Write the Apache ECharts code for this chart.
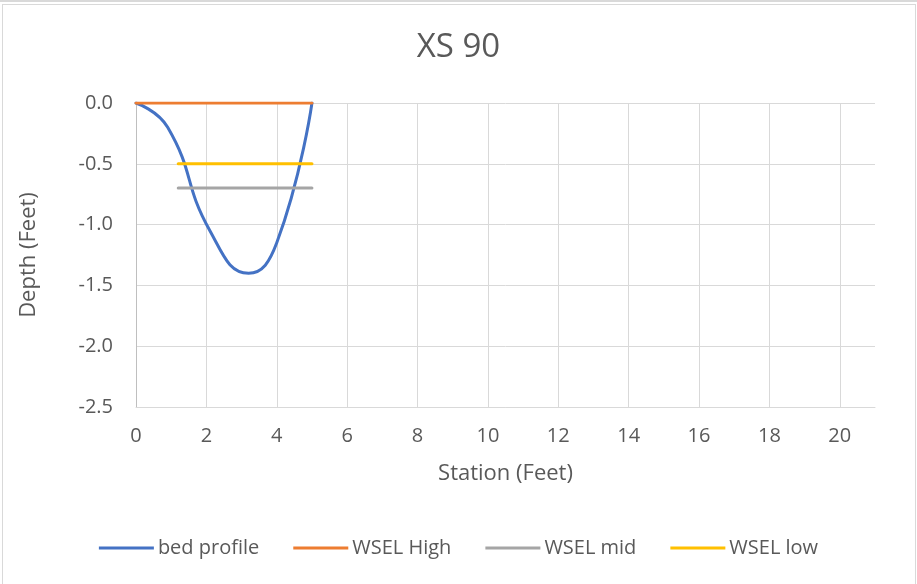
<!DOCTYPE html>
<html>
<head>
<meta charset="utf-8">
<script src="https://cdn.jsdelivr.net/npm/echarts@6/dist/echarts.min.js"></script>
<style>
  html, body { margin: 0; padding: 0; background: #fff; }
  #wrap { position: relative; width: 917px; height: 584px; overflow: hidden; }
  #chart { position: absolute; left: 0; top: 0; width: 917px; height: 584px; }
  #frame { position: absolute; left: 2px; top: 4px; width: 912px; height: 590px; border: 1px solid #d9d9d9; pointer-events: none; }
  #strip { position: absolute; left: 0; top: 0; width: 917px; height: 2px; background: #d9d9d9; }
</style>
</head>
<body>
<div id="wrap">
  <div id="chart"></div>
  <div id="strip"></div>
  <div id="frame"></div>
</div>
<script>
// station / depth pairs
const bedStation = [0, 0.9, 2.1, 3.2, 4.0, 5.0]
const bedDepth = [0, -0.2, -1.05, -1.4, -1.15, 0]

const highStation = [0, 5]
const highDepth = [0, 0]
const midStation = [1.2, 5]
const midDepth = [-0.7, -0.7]
const lowStation = [1.2, 5]
const lowDepth = [-0.5, -0.5]

const seriesNames = ['bed profile', 'WSEL High', 'WSEL mid', 'WSEL low']
const seriesColors = ['#4472C4', '#ED7D31', '#A5A5A5', '#FFC000']

const pairs = (xs, ys) => xs.map((x, i) => [x, ys[i]])

const font = '"Open Sans", "Noto Sans", sans-serif'
const textColor = '#595959'

// 11 grid lines for 0..20, none at the 21 edge
const xSplitColors = new Array(11).fill('#d9d9d9').concat(['rgba(0,0,0,0)'])

const chart = echarts.init(document.getElementById('chart'))

const option = {
  animation: false,
  textStyle: {fontFamily: font},
  title: {
    text: 'XS 90',
    left: 'center',
    top: 26,
    textStyle: {fontFamily: font, fontSize: 33, fontWeight: 'normal', color: textColor}
  },
  legend: {
    data: seriesNames,
    bottom: 21,
    left: 'center',
    icon: 'rect',
    itemWidth: 55,
    itemHeight: 3,
    itemGap: 34,
    textStyle: {fontFamily: font, fontSize: 20, color: textColor, padding: [0, 0, 0, -1]}
  },
  grid: {left: 136, right: 42, top: 103, bottom: 177},
  xAxis: {
    type: 'value',
    min: 0,
    max: 21,
    interval: 2,
    name: 'Station (Feet)',
    nameLocation: 'middle',
    nameGap: 56,
    nameTextStyle: {fontFamily: font, fontSize: 22, color: textColor},
    axisLine: {show: true, onZero: false, lineStyle: {color: '#d9d9d9', width: 1}},
    axisTick: {show: false},
    axisLabel: {fontFamily: font, fontSize: 20, color: textColor, margin: 19, showMaxLabel: false},
    splitLine: {show: true, lineStyle: {color: xSplitColors, width: 1}}
  },
  yAxis: {
    type: 'value',
    min: -2.5,
    max: 0,
    interval: 0.5,
    name: 'Depth (Feet)',
    nameLocation: 'middle',
    nameGap: 96,
    nameTextStyle: {fontFamily: font, fontSize: 22, color: textColor},
    axisLine: {show: true, lineStyle: {color: '#bfbfbf', width: 1}},
    axisTick: {show: false},
    axisLabel: {
      fontFamily: font, fontSize: 20, color: textColor, margin: 23,
      formatter: v => v.toFixed(1)
    },
    splitLine: {show: true, lineStyle: {color: '#d9d9d9', width: 1}}
  },
  series: [
    {
      name: seriesNames[0], type: 'line', smooth: 0.5, symbol: 'none',
      data: pairs(bedStation, bedDepth),
      lineStyle: {color: seriesColors[0], width: 3, cap: 'round'},
      itemStyle: {color: seriesColors[0]}
    },
    {
      name: seriesNames[1], type: 'line', symbol: 'none',
      data: pairs(highStation, highDepth),
      lineStyle: {color: seriesColors[1], width: 3, cap: 'round'},
      itemStyle: {color: seriesColors[1]}
    },
    {
      name: seriesNames[2], type: 'line', symbol: 'none',
      data: pairs(midStation, midDepth),
      lineStyle: {color: seriesColors[2], width: 3, cap: 'round'},
      itemStyle: {color: seriesColors[2]}
    },
    {
      name: seriesNames[3], type: 'line', symbol: 'none',
      data: pairs(lowStation, lowDepth),
      lineStyle: {color: seriesColors[3], width: 3, cap: 'round'},
      itemStyle: {color: seriesColors[3]}
    }
  ]
}

chart.setOption(option)
</script>
</body>
</html>
